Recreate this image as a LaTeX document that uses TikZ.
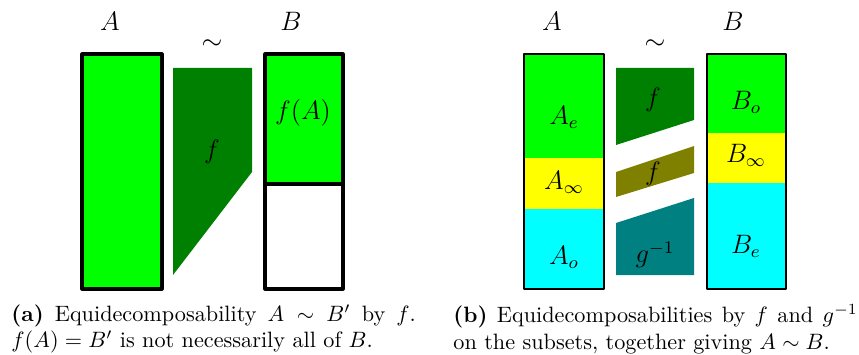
\documentclass[tikz,border=0pt]{standalone}
\usepackage{amsmath}
\definecolor{setgreen}{RGB}{0,255,0}
\definecolor{setyellow}{RGB}{255,255,0}
\definecolor{setcyan}{RGB}{0,255,255}
\definecolor{piecegreen}{RGB}{0,128,0}
\definecolor{pieceolive}{RGB}{128,128,0}
\definecolor{pieceteal}{RGB}{0,128,128}
\begin{document}
\begin{tikzpicture}[
    x=0.45pt, y=-0.45pt,
    line join=round,
    boldframe/.style={draw, line width=1.4pt},
    thinframe/.style={draw, line width=0.5pt},
    lbl/.style={font=\large, inner sep=0pt},
    capt/.style={text width=182pt, align=justify, anchor=north west, inner sep=0pt}
  ]
  \useasboundingbox (0,0) rectangle (859,355);

  % (a) one piece f
  \filldraw[boldframe, fill=setgreen] (82,54) rectangle (162,289);
  \fill[piecegreen] (173,68) -- (252,68) -- (252,172) -- (173,275) -- cycle;
  \fill[setgreen] (265,54) rectangle (343,184);
  \draw[boldframe] (265,54) rectangle (343,289);
  \draw[boldframe] (265,184) -- (343,184);

  \node (setA)  [lbl] at (110,21) {$A$};
  \node (setB)  [lbl] at (291,21) {$B$};
  \node (sim)   [lbl] at (212,45) {$\sim$};
  \node (pf)    [lbl] at (212,152) {$f$};
  \node (fa)    [lbl] at (303,113) {$f(A)$};
  \node (capa)  [capt] at (11,304)
      {\textbf{(a)} Equidecomposability $A \sim B'$ by $f$.\linebreak
       $f(A) = B'$ is not necessarily all of $B$.};

  % (b) pieces on the subsets
  \fill[setgreen]  (524,54)  rectangle (604,158);
  \fill[setyellow] (524,158) rectangle (604,209);
  \fill[setcyan]   (524,209) rectangle (604,289);
  \draw[thinframe] (524,54) rectangle (604,289);

  \fill[piecegreen] (616,68) -- (694,68) -- (694,120) -- (616,145) -- cycle;
  \fill[pieceolive] (616,172) -- (694,146) -- (694,173) -- (616,197) -- cycle;
  \fill[pieceteal]  (616,223) -- (694,198) -- (694,275) -- (616,275) -- cycle;

  \fill[setgreen]  (707,54)  rectangle (786,133);
  \fill[setyellow] (707,133) rectangle (786,183);
  \fill[setcyan]   (707,183) rectangle (786,289);
  \draw[thinframe] (707,54) rectangle (786,289);

  \node (setA2) [lbl] at (552,21) {$A$};
  \node (setB2) [lbl] at (733,21) {$B$};
  \node (sim2)  [lbl] at (655,45) {$\sim$};
  \node (ae)    [lbl] at (564,117) {$A_e$};
  \node (ainf)  [lbl] at (564,182) {$A_\infty$};
  \node (ao)    [lbl] at (564,257) {$A_o$};
  \node (pf1)   [lbl] at (653,100) {$f$};
  \node (pf2)   [lbl] at (653,174) {$f$};
  \node (pg)    [lbl] at (655,255) {$g^{-1}$};
  \node (bo)    [lbl] at (746,102) {$B_o$};
  \node (binf)  [lbl] at (746,155) {$B_\infty$};
  \node (be)    [lbl] at (746,246) {$B_e$};
  \node (capb)  [capt] at (453,304)
      {\textbf{(b)} Equidecomposabilities by $f$ and $g^{-1}$\linebreak
       on the subsets, together giving $A \sim B$.};
\end{tikzpicture}
\end{document}
